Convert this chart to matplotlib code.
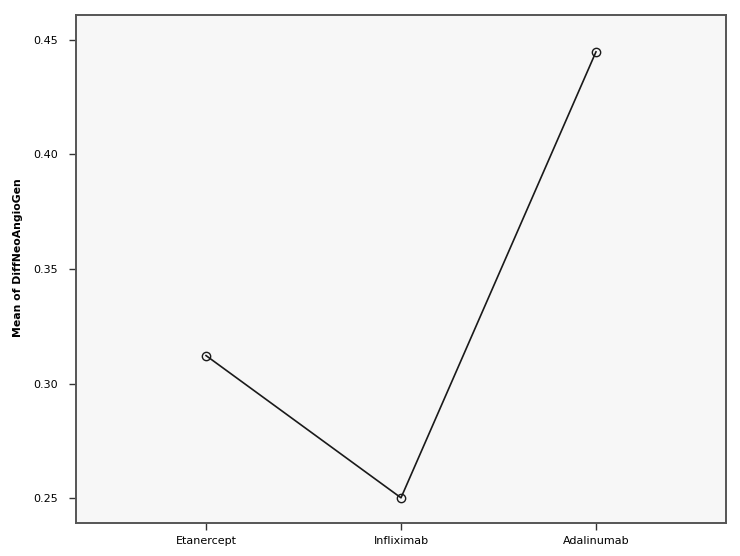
import matplotlib
matplotlib.use("Agg")
import matplotlib.pyplot as plt

categories = ["Etanercept", "Infliximab", "Adalinumab"]
means = [0.3122, 0.2501, 0.4448]
yticks = [0.25, 0.30, 0.35, 0.40, 0.45]
ytick_labels = ["0.25", "0.30", "0.35", "0.40", "0.45"]

fig = plt.figure(figsize=(7.4, 5.56), dpi=100)
ax = fig.add_axes([76/740, 1 - 523/556, 650/740, 508/556])
ax.set_facecolor("#f7f7f7")

x = list(range(1, len(categories) + 1))
ax.plot(x, means, color="#1a1a1a", lw=1.2, marker="o", markersize=6,
        markerfacecolor="none", markeredgecolor="#1a1a1a", markeredgewidth=1.0)

ax.set_xlim(0.333, 3.667)
ax.set_ylim(0.2391, 0.4609)
ax.set_xticks(x)
ax.set_xticklabels(categories, fontsize=8)
ax.set_yticks(yticks)
ax.set_yticklabels(ytick_labels, fontsize=8)
ax.tick_params(direction="out", length=5, width=1, color="#333333", pad=4)
ax.tick_params(axis="y", pad=8)
ax.set_ylabel("Mean of DiffNeoAngioGen", fontsize=7.8, fontweight="bold")
ax.yaxis.set_label_coords(-53/650, (523 - 258) / 508)
for s in ax.spines.values():
    s.set_color("#555555")
    s.set_linewidth(1.4)

fig.savefig("out.png", dpi=100, facecolor="white")
